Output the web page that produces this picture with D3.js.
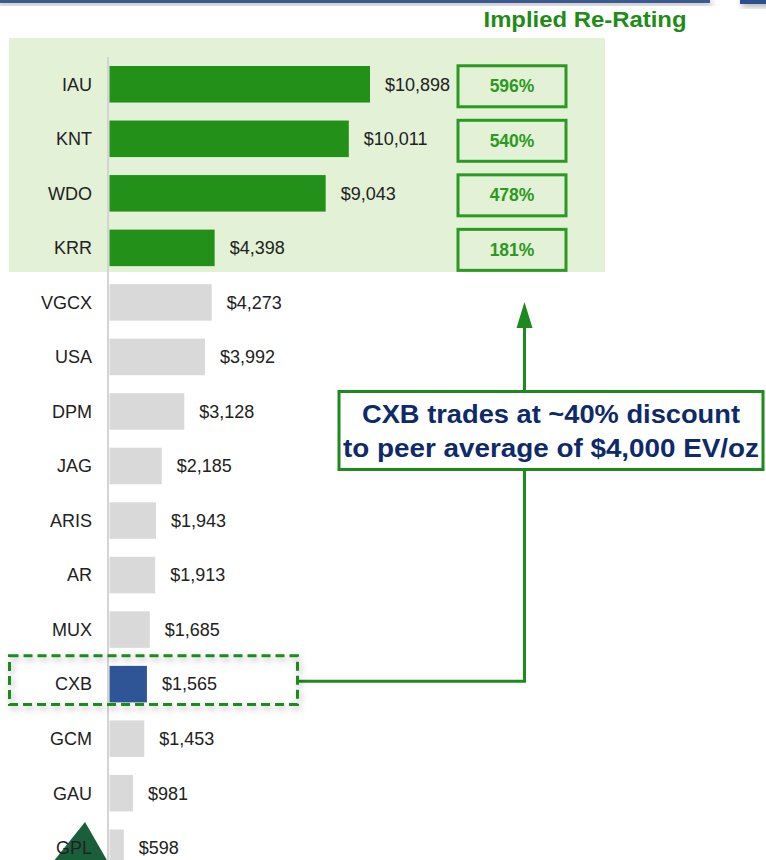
<!doctype html>
<html>
<head>
<meta charset="utf-8">
<script src="https://cdn.jsdelivr.net/npm/d3@7"></script>
<style>
  html, body { margin: 0; padding: 0; background: #fff; }
  svg { display: block; font-family: "Liberation Sans", Arial, sans-serif; }
</style>
</head>
<body>
<svg id="chart" width="766" height="860"></svg>
<script>
  // EV per ounce, by company
  var tickers = ['IAU', 'KNT', 'WDO', 'KRR', 'VGCX', 'USA', 'DPM', 'JAG', 'ARIS', 'AR', 'MUX', 'CXB', 'GCM', 'GAU', 'GPL'];
  var evPerOz = [10898, 10011, 9043, 4398, 4273, 3992, 3128, 2185, 1943, 1913, 1685, 1565, 1453, 981, 598];

  // implied re-rating for the leaders
  var reratedTickers = ['IAU', 'KNT', 'WDO', 'KRR'];
  var rerating = [596, 540, 478, 181];

  var calloutLines = ['CXB trades at ~40% discount', 'to peer average of $4,000 EV/oz'];

  var GREEN = '#23901a', GREY = '#d9d9d9', BLUE = '#2f5597', LINE_GREEN = '#1c8a1c';

  var rows = tickers.map(function (t, i) { return { ticker: t, value: evPerOz[i] }; });

  var svg = d3.select('#chart');
  var defs = svg.append('defs');

  var shadow = defs.append('filter').attr('id', 'shadow')
    .attr('x', '-10%').attr('y', '-30%').attr('width', '130%').attr('height', '180%');
  shadow.append('feDropShadow').attr('dx', 2).attr('dy', 3).attr('stdDeviation', 3)
    .attr('flood-color', '#000').attr('flood-opacity', 0.3);

  var x = d3.scaleLinear().domain([0, d3.max(evPerOz)]).range([109.5, 370]);
  var y = d3.scaleBand().domain(tickers).range([57, 875])
    .paddingInner(0.33).paddingOuter(0.165);
  var cy = function (t) { return y(t) + y.bandwidth() / 2; };

  // slide decoration at the top
  svg.append('rect').attr('x', -5).attr('y', -2).attr('width', 715).attr('height', 5)
    .attr('fill', '#3b5a92').attr('filter', 'url(#shadow)');
  svg.append('rect').attr('x', 740).attr('y', -6).attr('width', 30).attr('height', 10)
    .attr('fill', '#2f4f8f').attr('filter', 'url(#shadow)');

  // highlighted band behind the leaders
  svg.append('rect')
    .attr('x', 9).attr('width', 596)
    .attr('y', 38).attr('height', 234)
    .attr('fill', '#e3f1d6');

  svg.append('text')
    .attr('x', 585).attr('y', 27)
    .attr('text-anchor', 'middle')
    .attr('font-size', 22).attr('font-weight', 'bold')
    .attr('fill', '#1f8c17')
    .attr('textLength', 203).attr('lengthAdjust', 'spacingAndGlyphs')
    .text('Implied Re-Rating');

  // axis line
  svg.append('line')
    .attr('x1', 108).attr('x2', 108).attr('y1', 57).attr('y2', 860)
    .attr('stroke', '#d4d4d4').attr('stroke-width', 2);

  // bars
  svg.append('g').selectAll('rect').data(rows).join('rect')
    .attr('x', x(0))
    .attr('y', function (d) { return y(d.ticker); })
    .attr('width', function (d) { return x(d.value) - x(0); })
    .attr('height', y.bandwidth())
    .attr('fill', function (d) {
      if (d.ticker === 'CXB') return BLUE;
      return reratedTickers.indexOf(d.ticker) >= 0 ? GREEN : GREY;
    });

  // value labels
  svg.append('g').selectAll('text').data(rows).join('text')
    .attr('x', function (d) { return x(d.value) + 15; })
    .attr('y', function (d) { return cy(d.ticker); })
    .attr('dy', '0.35em')
    .attr('font-size', 18).attr('fill', '#222')
    .text(function (d) { return '$' + d3.format(',')(d.value); });

  // CXB highlight box + connector
  var cxbY = y('CXB');
  var conY = cy('CXB') - 3;
  var calloutX = 524.5;
  svg.append('path')
    .attr('d', 'M298,' + conY + 'H' + calloutX + 'V470')
    .attr('fill', 'none').attr('stroke', LINE_GREEN).attr('stroke-width', 3);
  svg.append('rect')
    .attr('x', 9.5).attr('y', cxbY - 10)
    .attr('width', 288).attr('height', y.bandwidth() + 12)
    .attr('fill', 'none').attr('stroke', LINE_GREEN).attr('stroke-width', 3)
    .attr('stroke-dasharray', '9,5').attr('filter', 'url(#shadow)');

  // triangle decoration bottom-left (sits under the labels)
  svg.append('path')
    .attr('d', d3.line()([[53, 862], [85, 822], [108, 862]]) + 'Z')
    .attr('fill', '#19603a');

  // category labels
  svg.append('g').selectAll('text').data(rows).join('text')
    .attr('x', 92)
    .attr('y', function (d) { return cy(d.ticker); })
    .attr('dy', '0.35em')
    .attr('text-anchor', 'end')
    .attr('font-size', 18).attr('fill', '#222')
    .text(function (d) { return d.ticker; });

  // re-rating boxes
  var rr = svg.append('g').selectAll('g').data(reratedTickers).join('g')
    .attr('transform', function (t) { return 'translate(512,' + (cy(t) + 2) + ')'; });
  rr.append('rect')
    .attr('x', -54).attr('y', -20.5).attr('width', 108).attr('height', 41)
    .attr('fill', 'none').attr('stroke', '#2a9a20').attr('stroke-width', 3);
  rr.append('text')
    .attr('text-anchor', 'middle').attr('dy', '0.35em')
    .attr('font-size', 17.5).attr('font-weight', 'bold').attr('fill', '#2a9a20')
    .text(function (t, i) { return rerating[i] + '%'; });

  // arrow up from callout
  svg.append('line')
    .attr('x1', calloutX).attr('x2', calloutX).attr('y1', 391).attr('y2', 325)
    .attr('stroke', LINE_GREEN).attr('stroke-width', 3);
  svg.append('path')
    .attr('d', d3.line()([[calloutX, 302], [calloutX + 8, 328], [calloutX - 8, 328]]) + 'Z')
    .attr('fill', LINE_GREEN);

  // callout
  svg.append('rect')
    .attr('x', 339).attr('y', 391.5).attr('width', 424).attr('height', 78)
    .attr('fill', '#fff').attr('stroke', LINE_GREEN).attr('stroke-width', 3);
  svg.append('g').selectAll('text').data(calloutLines).join('text')
    .attr('x', 551)
    .attr('y', function (d, i) { return 423 + i * 34; })
    .attr('text-anchor', 'middle')
    .attr('font-size', 25).attr('font-weight', 'bold')
    .attr('fill', '#0e2a6a')
    .attr('textLength', function (d, i) { return i === 0 ? 378 : 416; })
    .attr('lengthAdjust', 'spacingAndGlyphs')
    .text(function (d) { return d; });
</script>
</body>
</html>
